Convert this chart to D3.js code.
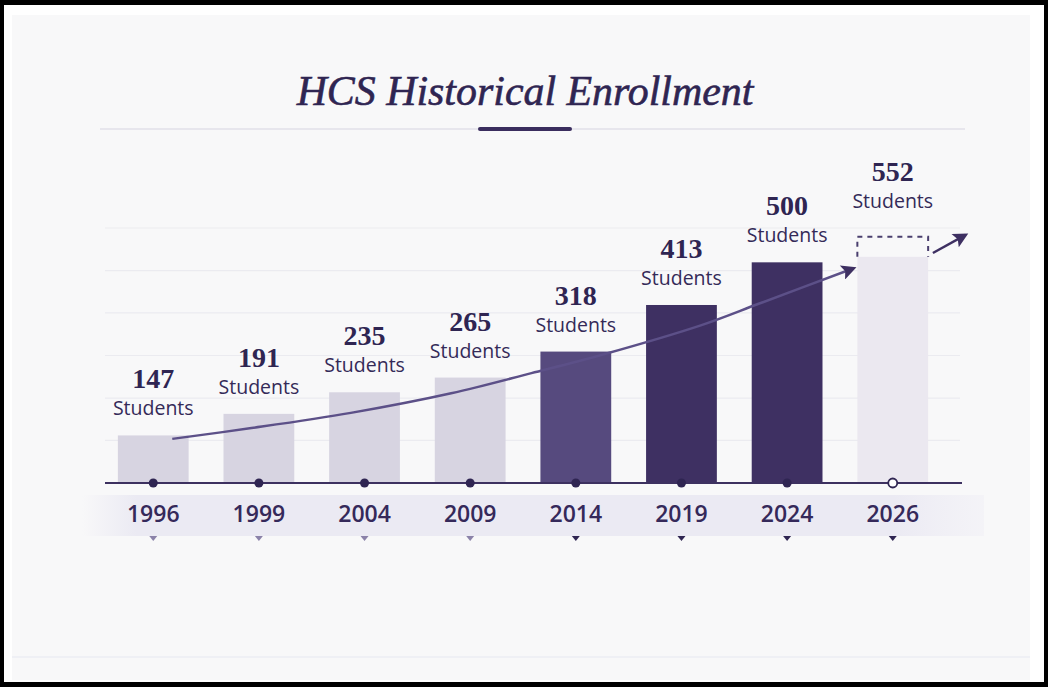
<!DOCTYPE html>
<html>
<head>
<meta charset="utf-8">
<script src="https://cdn.jsdelivr.net/npm/d3@7/dist/d3.min.js"></script>
<style>
  html, body { margin: 0; padding: 0; background: #ffffff; }
  svg { display: block; }
</style>
</head>
<body>
<svg id="chart" width="1048" height="687"></svg>
<script>
// ---- data ----
const titleText = "HCS Historical Enrollment";
const years = ["1996", "1999", "2004", "2009", "2014", "2019", "2024", "2026"];
const enrollment = [147, 191, 235, 265, 318, 413, 500, 552];
const unitLabel = "Students";
const phase = ["early", "early", "early", "early", "growth", "recent", "recent", "projected"];
// decorative trend curve (position in bar steps, value in students)
const trendIndex = [0.18, 0.93, 1.87, 2.82, 3.58, 4.24, 5.19, 5.75, 6.63];
const trendValues = [140, 162, 193, 233, 274, 311, 372, 417, 488];
const trendTailIndex = [7.38, 7.69];
const trendTailValues = [519, 556];
const gridValues = [137, 223, 310, 397, 483, 570];

// ---- styles ----
const ink = "#2f2552";
const phaseFill = { early: "#d7d4e1", growth: "#564a7e", recent: "#3e3062", projected: "#ebe8f0" };
const markerFill = { early: "#8b82a9", growth: ink, recent: ink, projected: ink };

const svg = d3.select("#chart");
const W = 1048, H = 687;

// frame
svg.append("rect").attr("x", 0).attr("y", 0).attr("width", W).attr("height", H).attr("fill", "#000");
svg.append("rect").attr("x", 4).attr("y", 5).attr("width", W - 8).attr("height", H - 10).attr("fill", "#ffffff");
svg.append("rect").attr("x", 12).attr("y", 15).attr("width", 1018).attr("height", 665).attr("fill", "#f8f8f9");
svg.append("line").attr("x1", 12).attr("x2", 1030).attr("y1", 657).attr("y2", 657)
  .attr("stroke", "#eceef3").attr("stroke-width", 1.5);

const defs = svg.append("defs");
const bandGrad = defs.append("linearGradient").attr("id", "bandGrad").attr("x1", 0).attr("x2", 1).attr("y1", 0).attr("y2", 0);
bandGrad.append("stop").attr("offset", "0%").attr("stop-color", "#ebeaf3").attr("stop-opacity", 0);
bandGrad.append("stop").attr("offset", "6%").attr("stop-color", "#ebeaf3").attr("stop-opacity", 1);
bandGrad.append("stop").attr("offset", "90%").attr("stop-color", "#ebeaf3").attr("stop-opacity", 1);
bandGrad.append("stop").attr("offset", "100%").attr("stop-color", "#f1f0f6").attr("stop-opacity", 0.6);

// scales
const x = d3.scaleBand().domain(years).range([83, 963]).paddingInner(0.33).paddingOuter(0.33);
const y = d3.scaleLinear().domain([50, 570]).range([483, 228]);
const cx = i => x(years[0]) + x.bandwidth() / 2 + i * x.step();
const baseY = y(50);

// title
const title = svg.append("text").attr("x", 525).attr("y", 105).attr("text-anchor", "middle")
  .attr("font-family", "'Liberation Serif', 'DejaVu Serif', serif")
  .attr("font-style", "italic").attr("font-size", 38).attr("fill", ink)
  .attr("stroke", ink).attr("stroke-width", 0.6).text(titleText);
const tw = title.node().getComputedTextLength();
title.attr("font-size", 38 * 457 / tw);

svg.append("line").attr("x1", 100).attr("x2", 965).attr("y1", 129).attr("y2", 129)
  .attr("stroke", "#e7e6ed").attr("stroke-width", 2);
svg.append("line").attr("x1", 480).attr("x2", 570).attr("y1", 129).attr("y2", 129)
  .attr("stroke", "#3a2d5e").attr("stroke-width", 4).attr("stroke-linecap", "round");

// grid
svg.append("g").selectAll("line").data(gridValues).join("line")
  .attr("x1", 105).attr("x2", 960)
  .attr("y1", d => y(d)).attr("y2", d => y(d))
  .attr("stroke", "#ebebf0").attr("stroke-width", 1.2);

// year band
svg.append("rect").attr("x", 82).attr("y", 495).attr("width", 902).attr("height", 41).attr("fill", "url(#bandGrad)");

// bars
const data = years.map((yr, i) => ({ year: yr, value: enrollment[i], phase: phase[i] }));
const dashH = 20;
svg.append("g").selectAll("rect").data(data).join("rect")
  .attr("x", d => x(d.year)).attr("width", x.bandwidth())
  .attr("y", d => d.phase === "projected" ? y(d.value) + dashH : y(d.value))
  .attr("height", d => d.phase === "projected" ? baseY - y(d.value) - dashH : baseY - y(d.value))
  .attr("fill", d => phaseFill[d.phase]);

// projected dashed cap
const proj = data.filter(d => d.phase === "projected");
svg.append("g").selectAll("path").data(proj).join("path")
  .attr("d", d => {
    const x0 = x(d.year), x1 = x(d.year) + x.bandwidth(), t = y(d.value), b = y(d.value) + dashH;
    return `M${x0},${b} L${x0},${t} L${x1},${t} L${x1},${b}`;
  })
  .attr("fill", "none").attr("stroke", "#4a3f6e").attr("stroke-width", 2).attr("stroke-dasharray", "5,5");

// trend curve
const line = d3.line().x(d => cx(d[0])).y(d => y(d[1])).curve(d3.curveCatmullRom.alpha(0.5));
defs.append("marker").attr("id", "arrow").attr("viewBox", "0 0 10 10").attr("refX", 8).attr("refY", 5)
  .attr("markerWidth", 6.5).attr("markerHeight", 6).attr("markerUnits", "strokeWidth").attr("orient", "auto")
  .append("path").attr("d", "M0,0 L10,5 L0,10 L2,5 Z").attr("fill", "#3e3062");
svg.append("path").datum(trendIndex.map((t, i) => [t, trendValues[i]]))
  .attr("d", line).attr("fill", "none").attr("stroke", "#5c5088").attr("stroke-width", 2.5)
  .attr("marker-end", "url(#arrow)");
svg.append("path").datum(trendTailIndex.map((t, i) => [t, trendTailValues[i]]))
  .attr("d", d3.line().x(d => cx(d[0])).y(d => y(d[1]))).attr("fill", "none")
  .attr("stroke", "#3e3062").attr("stroke-width", 2.5).attr("marker-end", "url(#arrow)");

// baseline
svg.append("line").attr("x1", 105).attr("x2", 962).attr("y1", baseY).attr("y2", baseY)
  .attr("stroke", "#3d3160").attr("stroke-width", 2);

// markers on baseline
svg.append("g").selectAll("circle").data(data).join("circle")
  .attr("cx", d => x(d.year) + x.bandwidth() / 2).attr("cy", baseY).attr("r", 4.5)
  .attr("fill", d => d.phase === "projected" ? "#ffffff" : "#2f2552")
  .attr("stroke", d => d.phase === "projected" ? "#2f2552" : "none").attr("stroke-width", 1.8);

// value labels
const lab = svg.append("g").selectAll("g").data(data).join("g")
  .attr("transform", d => `translate(${x(d.year) + x.bandwidth() / 2},${y(d.value) - (d.phase === "projected" ? 9 : 0)})`);
lab.append("text").attr("y", -47).attr("text-anchor", "middle")
  .attr("font-family", "'Liberation Serif', serif").attr("font-weight", "bold").attr("font-size", 28)
  .attr("fill", ink).text(d => d.value);
lab.append("text").attr("y", -20).attr("text-anchor", "middle")
  .attr("font-family", "'Open Sans', sans-serif").attr("font-size", 19.5).attr("font-weight", 500)
  .attr("fill", "#342a58").text(unitLabel);

// year axis labels
const xAxis = d3.axisBottom(x).tickSize(0).tickPadding(0);
const ax = svg.append("g").attr("transform", `translate(0,${baseY})`).call(xAxis);
ax.select(".domain").remove();
ax.selectAll(".tick text").attr("dy", 0).attr("y", 39)
  .attr("font-family", "'Open Sans', sans-serif").attr("font-size", 23).attr("font-weight", 600)
  .attr("fill", "#35295a");

// small triangles
svg.append("g").selectAll("path").data(data).join("path")
  .attr("transform", d => `translate(${x(d.year) + x.bandwidth() / 2},538)`)
  .attr("d", "M-4,-2 L4,-2 L0,3 Z")
  .attr("fill", d => markerFill[d.phase]);
</script>
</body>
</html>
